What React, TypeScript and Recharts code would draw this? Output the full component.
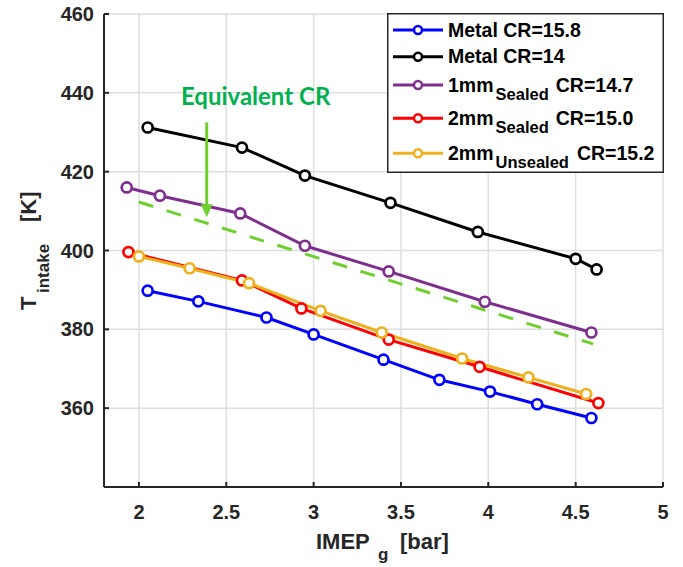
import React from 'react';
import { LineChart, Line, XAxis, YAxis, CartesianGrid, Legend, ReferenceDot } from 'recharts';

// IMEPg [bar] / Tintake [K]
const xMetal158 = [2.05, 2.34, 2.73, 3.0, 3.4, 3.72, 4.01, 4.28, 4.59];
const yMetal158 = [389.8, 387.1, 383.0, 378.7, 372.3, 367.2, 364.2, 361.0, 357.5];
const xMetal14 = [2.05, 2.59, 2.95, 3.44, 3.94, 4.5, 4.62];
const yMetal14 = [431.2, 426.1, 419.0, 412.1, 404.7, 397.9, 395.2];
const x1mmSealed = [1.93, 2.12, 2.58, 2.95, 3.43, 3.98, 4.59];
const y1mmSealed = [416.0, 413.9, 409.4, 401.2, 394.7, 387.0, 379.2];
const x2mmSealed = [1.94, 2.59, 2.93, 3.43, 3.95, 4.63];
const y2mmSealed = [399.6, 392.4, 385.3, 377.4, 370.5, 361.3];
const x2mmUnsealed = [2.0, 2.29, 2.63, 3.04, 3.39, 3.85, 4.23, 4.56];
const y2mmUnsealed = [398.5, 395.5, 391.7, 384.7, 379.2, 372.6, 367.8, 363.6];

// equivalent CR trend + arrow
const xEquivalent = [2.0, 4.6];
const yEquivalent = [412.3, 376.3];
const xArrow = [2.388, 2.388];
const yArrow = [432.5, 411.5];
const annotationX = 2.668;
const annotationY = 439;

const xTicks = [2, 2.5, 3, 3.5, 4, 4.5, 5];
const yTicks = [360, 380, 400, 420, 440, 460];

const AX = '#262626';
const FONT = '"Liberation Sans", Arial, Helvetica, sans-serif';
const GREEN_LINE = '#6fcf2f';
const GREEN_TEXT = '#00b050';

const toPoints = (xs: number[], ys: number[]) => xs.map((x, i) => ({ x, y: ys[i] }));

const series = [
  { key: 'm158', main: 'Metal CR=15.8', sub: '', cr: '', color: '#0000ff', xs: xMetal158, ys: yMetal158 },
  { key: 'm14', main: 'Metal CR=14', sub: '', cr: '', color: '#000000', xs: xMetal14, ys: yMetal14 },
  { key: 's1', main: '1mm', sub: 'Sealed', cr: 'CR=14.7', color: '#7e2f8e', xs: x1mmSealed, ys: y1mmSealed },
  { key: 's2', main: '2mm', sub: 'Sealed', cr: 'CR=15.0', color: '#ff0000', xs: x2mmSealed, ys: y2mmSealed },
  { key: 'u2', main: '2mm', sub: 'Unsealed', cr: 'CR=15.2', color: '#edb120', xs: x2mmUnsealed, ys: y2mmUnsealed },
];

const rowY = [17, 43.7, 72, 105.3, 140.3];

const LegendBox = () => (
  <svg width={277} height={160} style={{ display: 'block' }}>
    <rect x={0.75} y={0.75} width={275.5} height={158.5} fill="#fff" stroke={AX} strokeWidth={1.5} />
    {series.map((s, i) => (
      <g key={s.key}>
        <line x1={6} x2={56} y1={rowY[i]} y2={rowY[i]} stroke={s.color} strokeWidth={3} />
        <circle cx={31} cy={rowY[i]} r={4} fill="#fff" stroke={s.color} strokeWidth={2.5} />
        <text x={61} y={rowY[i] + 6.5} fontFamily={FONT} fontWeight={700} fontSize={19.5} fill="#000">
          {s.main}
          {s.sub && (
            <tspan dx={2} dy={8.6} fontSize={16.5}>
              {s.sub}
            </tspan>
          )}
          {s.cr && (
            <tspan dx={s.sub === 'Unsealed' ? 8 : 7} dy={-8.6}>
              {s.cr}
            </tspan>
          )}
        </text>
      </g>
    ))}
  </svg>
);

const XLabel = (props: any) => {
  const { viewBox } = props;
  const x0 = viewBox.x + 212;
  const base = viewBox.y + 62;
  return (
    <text x={x0} y={base} fontFamily={FONT} fontWeight={700} fontSize={22} fill={AX}>
      <tspan x={x0}>IMEP</tspan>
      <tspan x={x0 + 62} y={base + 11} fontSize={17}>g</tspan>
      <tspan x={x0 + 84} y={base}>[bar]</tspan>
    </text>
  );
};

const YLabel = (props: any) => {
  const { viewBox } = props;
  const bx = viewBox.x + 36;
  const by = viewBox.y + viewBox.height / 2 + 59.5;
  return (
    <text x={bx} y={by} transform={`rotate(-90, ${bx}, ${by})`} fontFamily={FONT} fontWeight={700} fontSize={22} fill={AX}>
      <tspan x={bx}>T</tspan>
      <tspan x={bx + 17} y={by + 13} fontSize={17}>intake</tspan>
      <tspan x={bx + 88} y={by}>[K]</tspan>
    </text>
  );
};

const ArrowHead = (props: any) => {
  const { cx, cy, index } = props;
  if (index !== yArrow.length - 1) return <g key={`a${index}`} />;
  return <polygon key={`a${index}`} points={`${cx - 6},${cy - 1} ${cx + 6},${cy - 1} ${cx},${cy + 12}`} fill={GREEN_LINE} />;
};

const tickStyle = { fill: AX, fontSize: 20, fontWeight: 700, fontFamily: FONT };
const axisStyle = { stroke: AX, strokeWidth: 2 };

export default function App() {
  return (
    <div style={{ position: 'absolute', left: 0, top: 0, width: 683, height: 567, background: '#fff' }}>
      <LineChart width={683} height={567} margin={{ top: 14, right: 20, bottom: 0, left: 0 }}>
        <CartesianGrid stroke="#dedede" strokeWidth={1.5} />
        <XAxis
          type="number"
          dataKey="x"
          domain={[1.8, 5]}
          ticks={xTicks}
          allowDataOverflow
          height={80}
          tickSize={-5}
          tickMargin={23}
          axisLine={axisStyle}
          tickLine={axisStyle}
          tick={tickStyle}
          label={{ content: XLabel }}
        />
        <XAxis
          xAxisId="top"
          orientation="top"
          type="number"
          domain={[1.8, 5]}
          ticks={xTicks}
          allowDataOverflow
          height={0}
          tickSize={-5}
          axisLine={axisStyle}
          tickLine={axisStyle}
          tick={false}
        />
        <YAxis
          type="number"
          domain={[340, 460]}
          ticks={yTicks}
          allowDataOverflow
          width={104}
          tickSize={-5}
          tickMargin={15}
          axisLine={axisStyle}
          tickLine={axisStyle}
          tick={tickStyle}
          label={{ content: YLabel }}
        />
        <YAxis
          yAxisId="right"
          orientation="right"
          type="number"
          domain={[340, 460]}
          ticks={yTicks}
          allowDataOverflow
          width={0}
          tickSize={-5}
          axisLine={axisStyle}
          tickLine={axisStyle}
          tick={false}
        />
        <Line
          data={toPoints(xEquivalent, yEquivalent)}
          dataKey="y"
          type="linear"
          stroke={GREEN_LINE}
          strokeWidth={3}
          strokeDasharray="15 14"
          dot={false}
          legendType="none"
          isAnimationActive={false}
        />
        {series.map((s) => (
          <Line
            key={s.key}
            data={toPoints(s.xs, s.ys)}
            dataKey="y"
            name={s.key}
            type="linear"
            stroke={s.color}
            strokeWidth={3}
            dot={{ r: 5, strokeWidth: 2.7, fill: '#fff', stroke: s.color }}
            isAnimationActive={false}
          />
        ))}
        <Line
          data={toPoints(xArrow, yArrow)}
          dataKey="y"
          type="linear"
          stroke={GREEN_LINE}
          strokeWidth={3}
          dot={ArrowHead}
          legendType="none"
          isAnimationActive={false}
        />
        <ReferenceDot
          x={annotationX}
          y={annotationY}
          r={0}
          shape={(p: any) => (
            <text x={p.cx} y={p.cy} dy={8} textAnchor="middle" fontFamily="Lato, 'Open Sans', sans-serif" fontWeight={700} fontSize={24} fill={GREEN_TEXT}>
              Equivalent CR
            </text>
          )}
        />
        <Legend
          layout="horizontal"
          align="center"
          verticalAlign="middle"
          width={277}
          height={160}
          wrapperStyle={{ left: 387, top: 13, width: 277, height: 160 }}
          content={() => <LegendBox />}
        />
      </LineChart>
    </div>
  );
}
